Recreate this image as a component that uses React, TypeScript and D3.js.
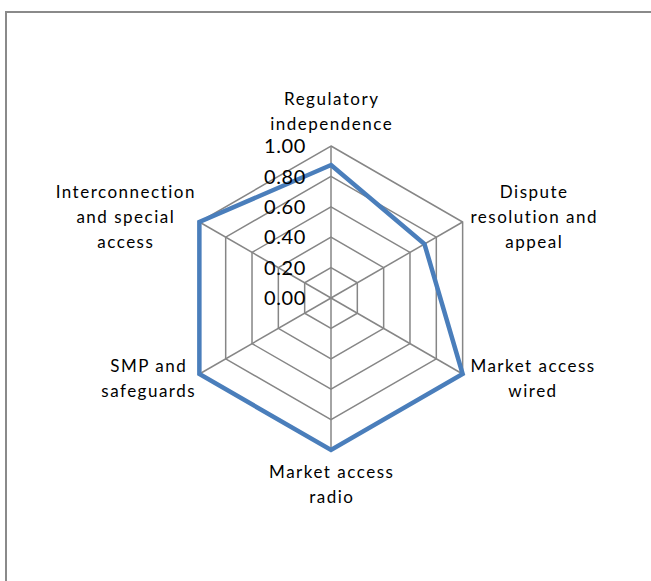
import React from "react";
import * as d3 from "d3";

const categories: string[][] = [
  ["Regulatory", "independence"],
  ["Dispute", "resolution and", "appeal"],
  ["Market access", "wired"],
  ["Market access", "radio"],
  ["SMP and", "safeguards"],
  ["Interconnection", "and special", "access"],
];
const values: number[] = [0.875, 0.71, 1, 1, 1, 1];
const ticks: number[] = [0, 0.2, 0.4, 0.6, 0.8, 1.0];
const tickLabels: string[] = ["0.00", "0.20", "0.40", "0.60", "0.80", "1.00"];

const W = 651;
const H = 581;
const cx = 331;
const cy = 298;
const R = 152;
const FONT = "Lato, 'Open Sans', 'DejaVu Sans', sans-serif";
const CAT_SIZE = 17;
const CAT_LS = 1.5;
const LH = 25;

function measure(text: string, size: number, ls: number): number {
  try {
    const c = document.createElement("canvas");
    const ctx = c.getContext("2d");
    if (!ctx) return text.length * size * 0.5;
    ctx.font = `${size}px Lato`;
    return ctx.measureText(text).width + ls * text.length;
  } catch (e) {
    return text.length * size * 0.5;
  }
}

export default function App() {
  const n = categories.length;
  const r = d3.scaleLinear().domain([0, 1]).range([0, R]);
  const angle = (i: number) => (i * 2 * Math.PI) / n;
  const pt = (i: number, v: number): [number, number] => [
    cx + r(v) * Math.sin(angle(i)),
    cy - r(v) * Math.cos(angle(i)),
  ];
  const lineGen = d3.line<[number, number]>().curve(d3.curveLinearClosed);

  const labelPos = categories.map((lines, i) => {
    const a = angle(i);
    const s = Math.sin(a);
    const c = Math.cos(a);
    const [vx, vy] = pt(i, 1);
    const k = lines.length;
    let x = vx;
    let yCenter = vy;
    if (Math.abs(s) < 0.01) {
      if (c > 0) {
        const lastLine = vy - 22;
        yCenter = lastLine - ((k - 1) * LH) / 2;
      } else {
        const firstLine = vy + 22;
        yCenter = firstLine + ((k - 1) * LH) / 2;
      }
    } else {
      const wmax = d3.max(lines, (l) => measure(l, CAT_SIZE, CAT_LS)) || 0;
      if (s > 0) x = vx + 7 + wmax / 2;
      else x = vx - 4 - wmax / 2;
      yCenter = c > 0 ? vy - 5 : vy + 4;
    }
    const y0 = yCenter - ((k - 1) * LH) / 2;
    return { x, y0 };
  });

  return (
    <svg
      width={W}
      height={H}
      style={{ position: "absolute", left: 0, top: 0, background: "#fff" }}
    >
      <rect x={0} y={0} width={W} height={H} fill="#fff" />
      <rect
        x={6}
        y={12}
        width={W + 20}
        height={H + 20}
        fill="none"
        stroke="#8a8a8a"
        strokeWidth={2}
      />
      {ticks
        .filter((t) => t > 0)
        .map((t) => (
          <path
            key={"g" + t}
            d={lineGen(d3.range(n).map((i) => pt(i, t))) || ""}
            fill="none"
            stroke="#868686"
            strokeWidth={1.5}
          />
        ))}
      {d3.range(n).map((i) => {
        const [x, y] = pt(i, 1);
        return (
          <line
            key={"s" + i}
            x1={cx}
            y1={cy}
            x2={x}
            y2={y}
            stroke="#868686"
            strokeWidth={1.5}
          />
        );
      })}
      <path
        d={lineGen(values.map((v, i) => pt(i, v))) || ""}
        fill="none"
        stroke="#4a7ebb"
        strokeWidth={4.5}
        strokeLinejoin="miter"
      />
      {ticks.map((t, k) => (
        <text
          key={"t" + t}
          x={cx - 25}
          y={cy - r(t)}
          dy="0.36em"
          textAnchor="end"
          fontFamily={FONT}
          fontSize={20}
          letterSpacing={0.6}
          fill="#000"
        >
          {tickLabels[k]}
        </text>
      ))}
      {categories.map((lines, i) => (
        <text
          key={"c" + i}
          textAnchor="middle"
          fontFamily={FONT}
          fontSize={CAT_SIZE}
          letterSpacing={CAT_LS}
          fill="#000"
        >
          {lines.map((ln, j) => (
            <tspan
              key={j}
              x={labelPos[i].x + CAT_LS / 2}
              y={labelPos[i].y0 + j * LH}
              dy="0.36em"
            >
              {ln}
            </tspan>
          ))}
        </text>
      ))}
    </svg>
  );
}
